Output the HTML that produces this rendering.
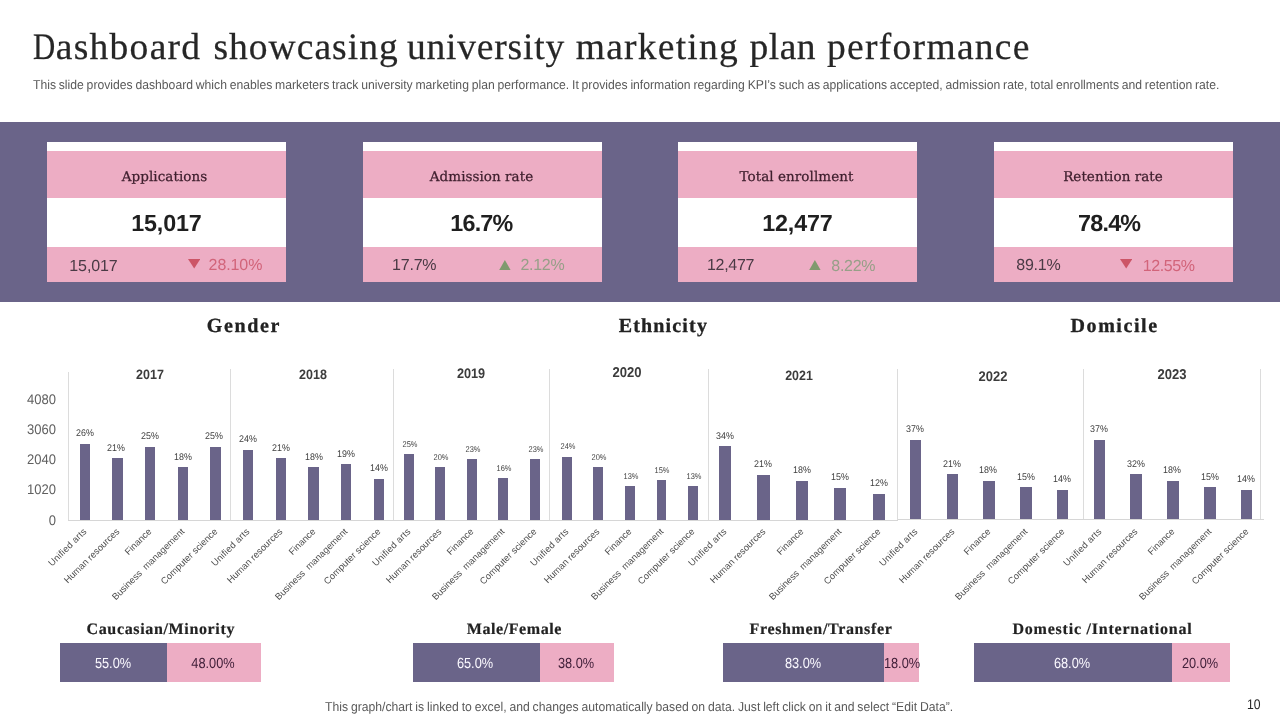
<!DOCTYPE html>
<html lang="en"><head><meta charset="utf-8"><title>Dashboard showcasing university marketing plan performance</title>
<style>
*{margin:0;padding:0;box-sizing:border-box}
html,body{width:1280px;height:720px;background:#fff;overflow:hidden}
body{position:relative;font-family:"Liberation Sans",sans-serif;color:#262626;text-rendering:geometricPrecision}
.abs{position:absolute;white-space:pre;line-height:1}
.title{left:32px;top:26.5px;font-family:"Liberation Serif",serif;font-size:37.5px;letter-spacing:1.65px;color:#262626;-webkit-text-stroke:0.25px #262626;line-height:42px;font-weight:normal;width:1100px;height:42px}
.sub{left:33px;top:77.7px;font-size:12.9px;word-spacing:-0.65px;transform:scaleX(0.945);transform-origin:0 50%;color:#595959;line-height:14px}
.band{position:absolute;left:0;top:122px;width:1280px;height:179.5px;background:#6a6489}
.card{position:absolute;top:142px;width:239px;height:140px;background:#fff}
.card .hd{position:absolute;left:0;top:9px;width:239px;height:46.5px;background:#edadc4}
.card .ft{position:absolute;left:0;top:105px;width:239px;height:35px;background:#edadc4}
.ctitle{font-family:"DejaVu Serif","Liberation Serif",serif;font-size:13.5px;letter-spacing:0.05px;color:#40202f;-webkit-text-stroke:0.25px #40202f;text-align:center;transform:translateX(-50%)}
.big{font-weight:bold;font-size:23.33px;color:#1f1f1f;transform:translateX(-50%)}
.small{font-size:16px;color:#4a3a45}
.dn{color:#d2647a}
.up{color:#979f88}
.h2{font-family:"Liberation Serif",serif;font-weight:bold;font-size:20px;color:#222;-webkit-text-stroke:0.3px #222}
.h3{font-family:"Liberation Serif",serif;font-weight:bold;font-size:16px;color:#222;-webkit-text-stroke:0.2px #222}
.yl{font-size:14px;color:#606060;text-align:right;width:40px;transform-origin:100% 50%;transform:scaleX(0.93)}
.yr{font-weight:bold;font-size:12.9px;color:#3c3c3c;transform:translateX(-50%) scaleX(0.92)}
.bar{position:absolute;background:#6a6489}
.vl{position:absolute;width:1px;background:#dcdcdc}
.hl{position:absolute;height:1px;background:#d6d6d6}
.dl{color:#404040;transform:translateX(-50%) scaleX(0.92)}
.xl{font-size:9.33px;color:#4d4d4d;transform-origin:100% 50%;transform:translateX(-100%) rotate(-44.6deg);line-height:10px}
.seg{position:absolute;top:643px;height:39px}
.st{font-size:14.6px;transform:translateX(-50%) scaleX(0.875)}
.foot{left:325px;top:700.2px;font-size:12.9px;word-spacing:-0.55px;transform:scaleX(0.945);transform-origin:0 50%;color:#595959;line-height:14px}
.pn{left:1247.2px;top:697.2px;font-size:14px;transform:scaleX(0.87);transform-origin:0 50%;color:#262626;line-height:14px}
</style></head>
<body>
<h1 class="abs title"><span style="position:absolute;left:0.8px;top:0;letter-spacing:1.28px"><span style="display:inline-block;transform:scaleX(0.82);transform-origin:0 100%;margin-right:-4.9px;letter-spacing:0.75px">D</span>ashboard</span> <span style="position:absolute;left:181.4px;top:0;letter-spacing:1.04px">showcasing</span> <span style="position:absolute;left:375px;top:0;letter-spacing:0.8px">university</span> <span style="position:absolute;left:543.75px;top:0;letter-spacing:1.25px">marketing</span> <span style="position:absolute;left:717.5px;top:0;letter-spacing:0.5px">plan</span> <span style="position:absolute;left:795px;top:0;letter-spacing:1.3px">performance</span></h1>
<div class="abs sub">This slide provides dashboard which enables marketers track university marketing plan performance. It provides information regarding KPI’s such as applications accepted, admission rate, total enrollments and retention rate.</div>
<div class="band"></div>
<div class="card" style="left:47px"><div class="hd"></div><div class="ft"></div></div>
<div class="abs ctitle" style="left:164.5px;top:171.1px">Applications</div>
<div class="abs big" style="left:166.4px;top:212px;letter-spacing:-0.2px">15,017</div>
<div class="abs small" style="left:69.3px;top:259px;letter-spacing:-0.1px">15,017</div>
<svg class="abs" style="left:187.9px;top:259.4px" width="12.4" height="9.4" viewBox="0 0 12.4 9.4"><polygon points="0,0 12.4,0 6.2,9.4" fill="#cc5567"/></svg>
<div class="abs small dn" style="left:208.6px;top:258.1px;letter-spacing:-0.1px">28.10%</div>
<div class="card" style="left:363px"><div class="hd"></div><div class="ft"></div></div>
<div class="abs ctitle" style="left:481.5px;top:171.1px">Admission rate</div>
<div class="abs big" style="left:481.4px;top:212px;letter-spacing:-0.8px">16.7%</div>
<div class="abs small" style="left:392px;top:258px;letter-spacing:-0.2px">17.7%</div>
<svg class="abs" style="left:499.3px;top:259.6px" width="11.8" height="10.4" viewBox="0 0 11.8 10.4"><polygon points="0,10.4 11.8,10.4 5.9,0" fill="#7f9a6e"/></svg>
<div class="abs small up" style="left:520.5px;top:258.1px;letter-spacing:-0.3px">2.12%</div>
<div class="card" style="left:678px"><div class="hd"></div><div class="ft"></div></div>
<div class="abs ctitle" style="left:796.5px;top:171.1px">Total enrollment</div>
<div class="abs big" style="left:797.4px;top:212px;letter-spacing:-0.2px">12,477</div>
<div class="abs small" style="left:707px;top:258px;letter-spacing:-0.3px">12,477</div>
<svg class="abs" style="left:809.1px;top:259.6px" width="11.8" height="10.4" viewBox="0 0 11.8 10.4"><polygon points="0,10.4 11.8,10.4 5.9,0" fill="#7f9a6e"/></svg>
<div class="abs small up" style="left:831.3px;top:259px;letter-spacing:-0.3px">8.22%</div>
<div class="card" style="left:994px"><div class="hd"></div><div class="ft"></div></div>
<div class="abs ctitle" style="left:1113px;top:171.1px">Retention rate</div>
<div class="abs big" style="left:1109.2px;top:212px;letter-spacing:-0.8px">78.4%</div>
<div class="abs small" style="left:1016.2px;top:257.9px;letter-spacing:-0.2px">89.1%</div>
<svg class="abs" style="left:1120px;top:259.4px" width="12.4" height="9.4" viewBox="0 0 12.4 9.4"><polygon points="0,0 12.4,0 6.2,9.4" fill="#cc5567"/></svg>
<div class="abs small dn" style="left:1142.8px;top:259.2px;letter-spacing:-0.4px">12.55%</div>
<h2 class="abs h2" style="left:206.75px;top:315.8px;letter-spacing:1.65px">Gender</h2>
<h2 class="abs h2" style="left:618.75px;top:315.8px;letter-spacing:1.156px">Ethnicity</h2>
<h2 class="abs h2" style="left:1070.6px;top:315.8px;letter-spacing:1.557px">Domicile</h2>
<div class="abs yl" style="left:16.2px;top:392.2px">4080</div>
<div class="abs yl" style="left:16.2px;top:422.2px">3060</div>
<div class="abs yl" style="left:16.2px;top:452.2px">2040</div>
<div class="abs yl" style="left:16.2px;top:482.2px">1020</div>
<div class="abs yl" style="left:16.2px;top:513.2px">0</div>
<div class="vl" style="left:68px;top:372px;height:149px"></div>
<div class="vl" style="left:230px;top:369px;height:152px"></div>
<div class="vl" style="left:393px;top:369px;height:152px"></div>
<div class="vl" style="left:549px;top:369px;height:152px"></div>
<div class="vl" style="left:708px;top:369px;height:152px"></div>
<div class="vl" style="left:897px;top:369px;height:152px"></div>
<div class="vl" style="left:1083px;top:369px;height:151px"></div>
<div class="vl" style="left:1260px;top:369px;height:151px"></div>
<div class="hl" style="left:68px;top:520px;width:830px"></div>
<div class="hl" style="left:898px;top:519px;width:366px"></div>
<div class="abs yr" style="left:149.5px;top:367.92px;font-size:13.6px">2017</div>
<div class="bar" style="left:80px;top:444px;width:10px;height:76px"></div>
<div class="abs dl" style="left:85.0px;top:428.55px;font-size:9.7px">26%</div>
<div class="abs xl" style="left:85.0px;top:525px;letter-spacing:0.18px">Unified arts</div>
<div class="bar" style="left:112px;top:458px;width:11px;height:62px"></div>
<div class="abs dl" style="left:116.3px;top:443.55px;font-size:9.7px">21%</div>
<div class="abs xl" style="left:117.5px;top:525px">Human resources</div>
<div class="bar" style="left:145px;top:447px;width:10px;height:73px"></div>
<div class="abs dl" style="left:150.0px;top:431.55px;font-size:9.7px">25%</div>
<div class="abs xl" style="left:150.0px;top:525px">Finance</div>
<div class="bar" style="left:178px;top:467px;width:10px;height:53px"></div>
<div class="abs dl" style="left:183.0px;top:452.55px;font-size:9.7px">18%</div>
<div class="abs xl" style="left:183.0px;top:525px">Business  management</div>
<div class="bar" style="left:210px;top:447px;width:11px;height:73px"></div>
<div class="abs dl" style="left:214.2px;top:431.55px;font-size:9.7px">25%</div>
<div class="abs xl" style="left:215.5px;top:525px">Computer science</div>
<div class="abs yr" style="left:313px;top:367.92px;font-size:13.6px">2018</div>
<div class="bar" style="left:243px;top:450px;width:10px;height:70px"></div>
<div class="abs dl" style="left:248.0px;top:434.55px;font-size:9.7px">24%</div>
<div class="abs xl" style="left:248.0px;top:525px;letter-spacing:0.18px">Unified arts</div>
<div class="bar" style="left:276px;top:458px;width:10px;height:62px"></div>
<div class="abs dl" style="left:281.0px;top:443.55px;font-size:9.7px">21%</div>
<div class="abs xl" style="left:281.0px;top:525px">Human resources</div>
<div class="bar" style="left:308px;top:467px;width:11px;height:53px"></div>
<div class="abs dl" style="left:313.5px;top:452.85px;font-size:9.7px">18%</div>
<div class="abs xl" style="left:313.5px;top:525px">Finance</div>
<div class="bar" style="left:341px;top:464px;width:10px;height:56px"></div>
<div class="abs dl" style="left:346.0px;top:449.55px;font-size:9.7px">19%</div>
<div class="abs xl" style="left:346.0px;top:525px">Business  management</div>
<div class="bar" style="left:374px;top:479px;width:10px;height:41px"></div>
<div class="abs dl" style="left:379.0px;top:463.55px;font-size:9.7px">14%</div>
<div class="abs xl" style="left:379.0px;top:525px">Computer science</div>
<div class="abs yr" style="left:471px;top:366.75px;font-size:13.8px">2019</div>
<div class="bar" style="left:404px;top:454px;width:10px;height:66px"></div>
<div class="abs dl" style="left:409.7px;top:439.90px;font-size:8.3px;transform:translateX(-50%) scaleX(0.9)">25%</div>
<div class="abs xl" style="left:409.0px;top:525px;letter-spacing:0.18px">Unified arts</div>
<div class="bar" style="left:435px;top:467px;width:10px;height:53px"></div>
<div class="abs dl" style="left:440.7px;top:452.90px;font-size:8.3px;transform:translateX(-50%) scaleX(0.9)">20%</div>
<div class="abs xl" style="left:440.0px;top:525px">Human resources</div>
<div class="bar" style="left:467px;top:459px;width:10px;height:61px"></div>
<div class="abs dl" style="left:472.7px;top:444.90px;font-size:8.3px;transform:translateX(-50%) scaleX(0.9)">23%</div>
<div class="abs xl" style="left:472.0px;top:525px">Finance</div>
<div class="bar" style="left:498px;top:478px;width:10px;height:42px"></div>
<div class="abs dl" style="left:503.7px;top:463.90px;font-size:8.3px;transform:translateX(-50%) scaleX(0.9)">16%</div>
<div class="abs xl" style="left:503.0px;top:525px">Business  management</div>
<div class="bar" style="left:530px;top:459px;width:10px;height:61px"></div>
<div class="abs dl" style="left:535.7px;top:444.90px;font-size:8.3px;transform:translateX(-50%) scaleX(0.9)">23%</div>
<div class="abs xl" style="left:535.0px;top:525px">Computer science</div>
<div class="abs yr" style="left:627px;top:366.42px;font-size:14.2px">2020</div>
<div class="bar" style="left:562px;top:457px;width:10px;height:63px"></div>
<div class="abs dl" style="left:567.8px;top:441.90px;font-size:8.3px;transform:translateX(-50%) scaleX(0.9)">24%</div>
<div class="abs xl" style="left:567.0px;top:525px;letter-spacing:0.18px">Unified arts</div>
<div class="bar" style="left:593px;top:467px;width:10px;height:53px"></div>
<div class="abs dl" style="left:598.8px;top:452.90px;font-size:8.3px;transform:translateX(-50%) scaleX(0.9)">20%</div>
<div class="abs xl" style="left:598.0px;top:525px">Human resources</div>
<div class="bar" style="left:625px;top:486px;width:10px;height:34px"></div>
<div class="abs dl" style="left:630.8px;top:471.90px;font-size:8.3px;transform:translateX(-50%) scaleX(0.9)">13%</div>
<div class="abs xl" style="left:630.0px;top:525px">Finance</div>
<div class="bar" style="left:657px;top:480px;width:9px;height:40px"></div>
<div class="abs dl" style="left:662.3px;top:465.90px;font-size:8.3px;transform:translateX(-50%) scaleX(0.9)">15%</div>
<div class="abs xl" style="left:661.5px;top:525px">Business  management</div>
<div class="bar" style="left:688px;top:486px;width:10px;height:34px"></div>
<div class="abs dl" style="left:693.8px;top:471.90px;font-size:8.3px;transform:translateX(-50%) scaleX(0.9)">13%</div>
<div class="abs xl" style="left:693.0px;top:525px">Computer science</div>
<div class="abs yr" style="left:798.5px;top:369.00px;font-size:13.5px">2021</div>
<div class="bar" style="left:719px;top:446px;width:12px;height:74px"></div>
<div class="abs dl" style="left:724.6px;top:431.95px;font-size:9.7px">34%</div>
<div class="abs xl" style="left:725.0px;top:525px;letter-spacing:0.18px">Unified arts</div>
<div class="bar" style="left:757px;top:475px;width:13px;height:45px"></div>
<div class="abs dl" style="left:763.1px;top:460.15px;font-size:9.7px">21%</div>
<div class="abs xl" style="left:763.5px;top:525px">Human resources</div>
<div class="bar" style="left:796px;top:481px;width:12px;height:39px"></div>
<div class="abs dl" style="left:801.6px;top:466.15px;font-size:9.7px">18%</div>
<div class="abs xl" style="left:802.0px;top:525px">Finance</div>
<div class="bar" style="left:834px;top:488px;width:12px;height:32px"></div>
<div class="abs dl" style="left:839.6px;top:473.15px;font-size:9.7px">15%</div>
<div class="abs xl" style="left:840.0px;top:525px">Business  management</div>
<div class="bar" style="left:873px;top:494px;width:12px;height:26px"></div>
<div class="abs dl" style="left:878.6px;top:479.15px;font-size:9.7px">12%</div>
<div class="abs xl" style="left:879.0px;top:525px">Computer science</div>
<div class="abs yr" style="left:993px;top:368.50px;font-size:14.1px">2022</div>
<div class="bar" style="left:910px;top:440px;width:11px;height:79px"></div>
<div class="abs dl" style="left:914.7px;top:425.05px;font-size:9.7px">37%</div>
<div class="abs xl" style="left:915.5px;top:525px;letter-spacing:0.18px">Unified arts</div>
<div class="bar" style="left:947px;top:474px;width:11px;height:45px"></div>
<div class="abs dl" style="left:951.7px;top:460.25px;font-size:9.7px">21%</div>
<div class="abs xl" style="left:952.5px;top:525px">Human resources</div>
<div class="bar" style="left:983px;top:481px;width:12px;height:38px"></div>
<div class="abs dl" style="left:988.2px;top:466.05px;font-size:9.7px">18%</div>
<div class="abs xl" style="left:989.0px;top:525px">Finance</div>
<div class="bar" style="left:1020px;top:487px;width:12px;height:32px"></div>
<div class="abs dl" style="left:1025.7px;top:473.25px;font-size:9.7px">15%</div>
<div class="abs xl" style="left:1026.0px;top:525px">Business  management</div>
<div class="bar" style="left:1057px;top:490px;width:11px;height:29px"></div>
<div class="abs dl" style="left:1061.7px;top:475.05px;font-size:9.7px">14%</div>
<div class="abs xl" style="left:1062.5px;top:525px">Computer science</div>
<div class="abs yr" style="left:1172px;top:368.42px;font-size:14.2px">2023</div>
<div class="bar" style="left:1094px;top:440px;width:11px;height:79px"></div>
<div class="abs dl" style="left:1098.5px;top:425.05px;font-size:9.7px">37%</div>
<div class="abs xl" style="left:1099.5px;top:525px;letter-spacing:0.18px">Unified arts</div>
<div class="bar" style="left:1130px;top:474px;width:12px;height:45px"></div>
<div class="abs dl" style="left:1136.0px;top:460.25px;font-size:9.7px">32%</div>
<div class="abs xl" style="left:1136.0px;top:525px">Human resources</div>
<div class="bar" style="left:1167px;top:481px;width:12px;height:38px"></div>
<div class="abs dl" style="left:1172.0px;top:466.05px;font-size:9.7px">18%</div>
<div class="abs xl" style="left:1173.0px;top:525px">Finance</div>
<div class="bar" style="left:1204px;top:487px;width:12px;height:32px"></div>
<div class="abs dl" style="left:1209.8px;top:473.25px;font-size:9.7px">15%</div>
<div class="abs xl" style="left:1210.0px;top:525px">Business  management</div>
<div class="bar" style="left:1241px;top:490px;width:11px;height:29px"></div>
<div class="abs dl" style="left:1245.5px;top:475.05px;font-size:9.7px">14%</div>
<div class="abs xl" style="left:1246.5px;top:525px">Computer science</div>
<h3 class="abs h3" style="left:86.5px;top:621.5px;letter-spacing:0.647px">Caucasian/Minority</h3>
<div class="seg" style="left:60px;width:107px;background:#6a6489"></div>
<div class="seg" style="left:167px;width:94px;background:#edadc4"></div>
<div class="abs st" style="left:113.25px;top:656.9px;color:#fbf9ff">55.0%</div>
<div class="abs st" style="left:213.4px;top:656.9px;color:#42203a">48.00%</div>
<h3 class="abs h3" style="left:466.75px;top:621.5px;letter-spacing:0.575px">Male/Female</h3>
<div class="seg" style="left:413px;width:127px;background:#6a6489"></div>
<div class="seg" style="left:540px;width:74px;background:#edadc4"></div>
<div class="abs st" style="left:475.1px;top:656.9px;color:#fbf9ff">65.0%</div>
<div class="abs st" style="left:576.4px;top:656.9px;color:#42203a">38.0%</div>
<h3 class="abs h3" style="left:749.5px;top:621.5px;letter-spacing:0.656px">Freshmen/Transfer</h3>
<div class="seg" style="left:723px;width:161px;background:#6a6489"></div>
<div class="seg" style="left:884px;width:35px;background:#edadc4"></div>
<div class="abs st" style="left:803.25px;top:656.9px;color:#fbf9ff">83.0%</div>
<div class="abs st" style="left:901.9px;top:656.9px;color:#42203a">18.0%</div>
<h3 class="abs h3" style="left:1012.5px;top:621.5px;letter-spacing:0.773px">Domestic /International</h3>
<div class="seg" style="left:974px;width:198px;background:#6a6489"></div>
<div class="seg" style="left:1172px;width:58px;background:#edadc4"></div>
<div class="abs st" style="left:1072px;top:656.9px;color:#fbf9ff">68.0%</div>
<div class="abs st" style="left:1200.1px;top:656.9px;color:#42203a">20.0%</div>
<div class="abs foot">This graph/chart is linked to excel, and changes automatically based on data. Just left click on it and select “Edit Data”.</div>
<div class="abs pn">10</div>
</body></html>
